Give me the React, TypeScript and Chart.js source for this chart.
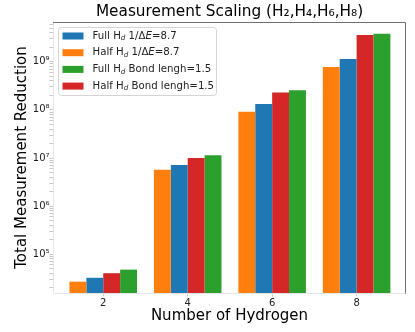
import React, { useEffect, useRef } from "react";
import { Chart, registerables } from "chart.js";

Chart.register(...registerables);

const categories = [2, 4, 6, 8];
const halfE = [2.7e4, 5.7e6, 9.1e7, 7.8e8];
const fullE = [3.25e4, 7.2e6, 1.33e8, 1.14e9];
const halfBond = [4.05e4, 1.0e7, 2.3e8, 3.6e9];
const fullBond = [4.8e4, 1.14e7, 2.55e8, 3.8e9];

const BLUE = "#1f77b4";
const ORANGE = "#ff7f0e";
const GREEN = "#2ca02c";
const RED = "#d62728";

const titleText = "Measurement Scaling (H₂,H₄,H₆,H₈)";
const xTitle = "Number of Hydrogen";
const yTitle = "Total Measurement Reduction";

type Seg = { t: string; sub?: boolean; it?: boolean };
const legendItems: { color: string; segs: Seg[] }[] = [
  { color: BLUE, segs: [{ t: "Full H" }, { t: "d", sub: true, it: true }, { t: " 1/Δ" }, { t: "E", it: true }, { t: "=8.7" }] },
  { color: ORANGE, segs: [{ t: "Half H" }, { t: "d", sub: true, it: true }, { t: " 1/Δ" }, { t: "E", it: true }, { t: "=8.7" }] },
  { color: GREEN, segs: [{ t: "Full H" }, { t: "d", sub: true, it: true }, { t: " Bond lengh=1.5" }] },
  { color: RED, segs: [{ t: "Half H" }, { t: "d", sub: true, it: true }, { t: " Bond lengh=1.5" }] },
];

const FONT = '"DejaVu Sans", sans-serif';
const SUP = "⁰¹²³⁴⁵⁶⁷⁸⁹";
const toSup = (n: number) => String(n).split("").map((c) => SUP[+c]).join("");

const toPts = (arr: number[]) => arr.map((y, i) => ({ x: categories[i], y }));

const overlayPlugin = {
  id: "overlay",
  afterDraw(chart: any) {
    const ctx = chart.ctx;
    const a = chart.chartArea;
    ctx.save();
    // frame
    ctx.lineWidth = 1;
    ctx.strokeStyle = "#e6e6e6";
    ctx.beginPath();
    ctx.moveTo(a.left + 0.5, a.top);
    ctx.lineTo(a.left + 0.5, a.bottom + 0.5);
    ctx.lineTo(a.right, a.bottom + 0.5);
    ctx.stroke();
    ctx.strokeStyle = "#707070";
    ctx.beginPath();
    ctx.moveTo(a.left, a.top + 0.5);
    ctx.lineTo(a.right - 0.5, a.top + 0.5);
    ctx.lineTo(a.right - 0.5, a.bottom + 0.5);
    ctx.stroke();

    // title
    ctx.fillStyle = "#000";
    ctx.font = `15.3px ${FONT}`;
    ctx.textAlign = "center";
    ctx.textBaseline = "middle";
    ctx.fillText(titleText, (a.left + a.right) / 2, 12);

    // legend
    const bx = 58.5, by = 27.5, bw = 158, bh = 68;
    ctx.fillStyle = "rgba(255,255,255,0.85)";
    ctx.strokeStyle = "#d4d4d4";
    ctx.beginPath();
    ctx.roundRect(bx, by, bw, bh, 3);
    ctx.fill();
    ctx.stroke();
    const size = 10.2;
    legendItems.forEach((item, i) => {
      const cy = 36 + i * 16.7;
      ctx.fillStyle = item.color;
      ctx.fillRect(62.5, cy - 3.5, 21, 7);
      let x = 92.5;
      ctx.textAlign = "left";
      ctx.textBaseline = "middle";
      ctx.fillStyle = "#222";
      item.segs.forEach((s) => {
        const fs = s.sub ? size * 0.7 : size;
        ctx.font = `${s.it ? "italic " : ""}${fs}px ${FONT}`;
        const y = s.sub ? cy + 2.5 : cy;
        ctx.fillText(s.t, x, y);
        x += ctx.measureText(s.t).width;
      });
    });
    ctx.restore();
  },
};

export default function App() {
  const ref = useRef<HTMLCanvasElement>(null);
  useEffect(() => {
    if (!ref.current) return;
    const chart = new Chart(ref.current, {
      type: "bar",
      data: {
        datasets: [
          { label: "Half 8.7", data: toPts(halfE) as any, backgroundColor: ORANGE },
          { label: "Full 8.7", data: toPts(fullE) as any, backgroundColor: BLUE },
          { label: "Half 1.5", data: toPts(halfBond) as any, backgroundColor: RED },
          { label: "Full 1.5", data: toPts(fullBond) as any, backgroundColor: GREEN },
        ],
      },
      options: {
        responsive: false,
        animation: false,
        layout: { padding: { top: 22, right: 9, left: 0, bottom: 0 } },
        plugins: { legend: { display: false }, title: { display: false }, tooltip: { enabled: false } },
        datasets: { bar: { categoryPercentage: 0.8, barPercentage: 1.0, borderWidth: 0 } },
        scales: {
          x: {
            type: "linear",
            offset: false,
            min: 0.81,
            max: 9.17,
            afterBuildTicks: (s: any) => {
              s.ticks = categories.map((v) => ({ value: v }));
            },
            afterFit: (s: any) => {
              s.height = 39;
            },
            ticks: {
              autoSkip: false,
              maxRotation: 0,
              padding: 1,
              color: "#222",
              font: { family: FONT, size: 10 },
              callback: (v: any) => String(v),
            },
            grid: { offset: false, drawOnChartArea: false, tickLength: 3.5, tickColor: "#cfcfcf" },
            border: { display: false },
            title: {
              display: true,
              text: xTitle,
              color: "#000",
              font: { family: FONT, size: 15 },
              padding: { top: 0, bottom: 7 },
            },
          },
          y: {
            type: "logarithmic",
            min: 1.57e4,
            max: 6.7e9,
            afterBuildTicks: (s: any) => {
              const t: any[] = [];
              for (let e = 4; e <= 9; e++) {
                for (let k = 1; k <= 9; k++) {
                  const v = k * Math.pow(10, e);
                  if (v >= s.min && v <= s.max) t.push({ value: v, major: k === 1 });
                }
              }
              s.ticks = t;
            },
            afterFit: (s: any) => {
              s.width = 53;
            },
            ticks: {
              autoSkip: false,
              padding: 0,
              color: "#222",
              font: { family: FONT, size: 10 },
              callback: (v: any) => {
                const e = Math.log10(v);
                if (Math.abs(e - Math.round(e)) < 1e-9) return "10" + toSup(Math.round(e));
                return "";
              },
            },
            grid: { drawOnChartArea: false, tickLength: 3.5, tickColor: "#c8c8c8" },
            border: { display: false },
            title: {
              display: true,
              text: yTitle,
              color: "#000",
              font: { family: FONT, size: 15 },
              padding: { top: 13, bottom: 0 },
            },
          },
        },
      },
      plugins: [overlayPlugin],
    } as any);
    return () => chart.destroy();
  }, []);
  return (
    <div style={{ position: "absolute", left: 0, top: 0, width: 415, height: 332, background: "#fff" }}>
      <canvas ref={ref} width={415} height={332} />
    </div>
  );
}
